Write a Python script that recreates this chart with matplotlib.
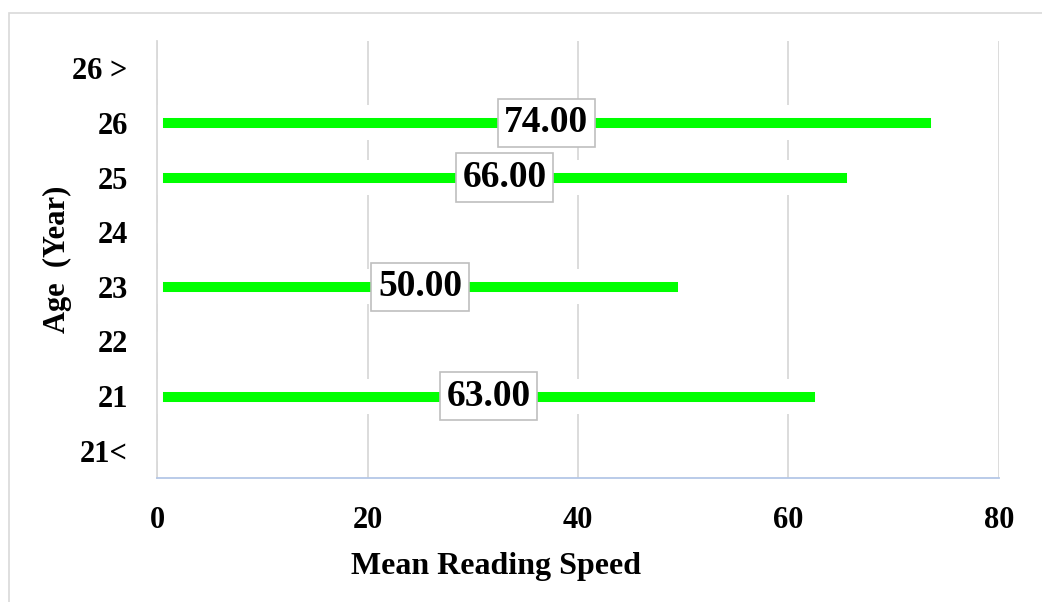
import matplotlib

matplotlib.use("Agg")
import matplotlib.pyplot as plt
from matplotlib.patches import Rectangle

# chart data
ages = ["21<", "21", "22", "23", "24", "25", "26", "26 >"]
speeds = [0, 63, 0, 50, 0, 66, 74, 0]
x_ticks = [0, 20, 40, 60, 80]

GREEN = "#00FF00"
GRID = "#D9D9D9"
SERIF = ["Liberation Serif", "DejaVu Serif"]

plt.rcParams["font.family"] = SERIF
plt.rcParams["font.weight"] = "bold"

fig = plt.figure(figsize=(10.42, 6.02), dpi=100)
ax = fig.add_axes([0.1507, 0.206, 0.808, 0.7259])

# outer chart-area border (right/bottom edges fall off the image)
fig.patches.append(Rectangle((9 / 1042, -0.05), 1.1, 1 - 13 / 602 + 0.05,
                             transform=fig.transFigure, fill=False,
                             edgecolor=GRID, linewidth=1.2))

ypos = list(range(len(ages)))
# white band behind each bar hides the gridlines, as in the source chart
ax.barh(ypos, speeds, height=0.64, color="white", zorder=1)
ax.barh(ypos, speeds, height=0.385, color=GREEN, edgecolor="white",
        linewidth=7.9, zorder=2)

for y, v in zip(ypos, speeds):
    if v <= 0:
        continue
    ax.text(v / 2, y, f"{v:.2f}", ha="center", va="center", fontsize=27,
            fontweight="bold", zorder=4,
            bbox=dict(boxstyle="square,pad=0.18", facecolor="white",
                      edgecolor="#BFBFBF", linewidth=1.2))

ax.set_xlim(0, 80)
ax.set_ylim(-0.5, len(ages) - 0.5)
ax.set_xticks(x_ticks)
ax.set_yticks(ypos)
ax.set_yticklabels(ages)
ax.tick_params(axis="both", length=0, labelsize=22)
ax.tick_params(axis="y", pad=21)
ax.tick_params(axis="x", pad=20)

ax.set_axisbelow(True)
ax.grid(axis="x", color=GRID, linewidth=1.3)
for side in ("top", "right"):
    ax.spines[side].set_visible(False)
ax.spines["left"].set_color(GRID)
ax.spines["left"].set_linewidth(1.3)
ax.spines["bottom"].set_color("#B4C7E7")
ax.spines["bottom"].set_linewidth(1.3)

ax.set_xlabel("Mean Reading Speed", fontsize=23, fontweight="bold")
ax.xaxis.set_label_coords((496 - 157) / 842, (478 - 567) / 437)
ax.set_ylabel("Age  (Year)", fontsize=22, fontweight="bold")
ax.yaxis.set_label_coords((57 - 157) / 842, 0.5)
ax.xaxis.label.set_va("center")
ax.yaxis.label.set_va("center")

fig.savefig("out.png", dpi=100)
